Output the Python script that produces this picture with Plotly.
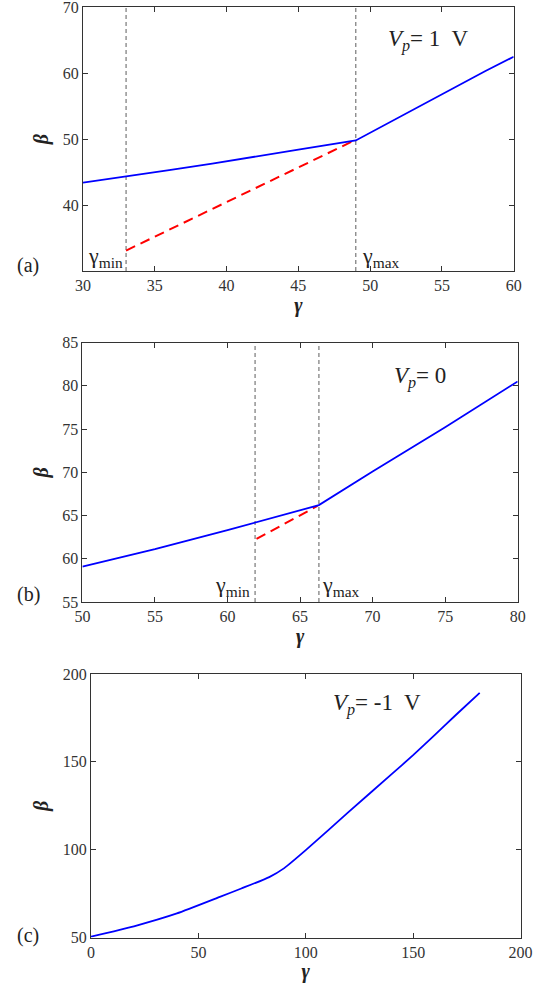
import plotly.graph_objects as go

# Panel (a): V_p = 1 V
a_gamma = [30, 33, 36, 39, 42, 45, 49, 52, 55, 58, 60]
a_beta = [43.4, 44.3, 45.3, 46.3, 47.4, 48.4, 49.8, 53.3, 56.8, 60.3, 62.5]
a_red_gamma = [33, 48.8]
a_red_beta = [33.1, 49.7]
a_vlines = [33, 49]

# Panel (b): V_p = 0
b_gamma = [50, 55, 60, 62, 64, 66.3, 70, 75, 80]
b_beta = [59.1, 61.1, 63.3, 64.2, 65.1, 66.2, 70.1, 75.2, 80.5]
b_red_gamma = [62, 66.2]
b_red_beta = [62.3, 66.1]
b_vlines = [61.9, 66.3]

# Panel (c): V_p = -1 V
c_gamma = [0, 20, 40, 60, 70, 83, 90, 100, 120, 140, 150, 160, 170, 181]
c_beta = [50.5, 56.4, 63.7, 73.1, 77.9, 84.4, 89.5, 99.7, 121.5, 143, 153.8, 165.2, 176.8, 189.3]

FONT = "'Liberation Serif', 'Times New Roman', Times, serif"
BLUE = "#0000ff"
RED = "#ff0000"
GRAY = "#777777"

fig = go.Figure()

def line(x, y, xa, ya, color, dash="solid", width=2, shape="linear"):
    fig.add_trace(go.Scatter(x=x, y=y, mode="lines", xaxis=xa, yaxis=ya,
                             line=dict(color=color, width=width, dash=dash, shape=shape,
                                       smoothing=0.5),
                             showlegend=False, hoverinfo="skip"))

# (a)
for v in a_vlines:
    line([v, v], [30, 70], "x", "y", GRAY, "4px,3px", 1.2)
line(a_red_gamma, a_red_beta, "x", "y", RED, "10px,6px", 2)
line(a_gamma, a_beta, "x", "y", BLUE, "solid", 1.8)
# (b)
for v in b_vlines:
    line([v, v], [55, 85], "x2", "y2", GRAY, "4px,3px", 1.2)
line(b_red_gamma, b_red_beta, "x2", "y2", RED, "10px,6px", 2)
line(b_gamma, b_beta, "x2", "y2", BLUE, "solid", 1.8)
# (c)
line(c_gamma, c_beta, "x3", "y3", BLUE, "solid", 1.8, "spline")

W, H = 537, 983

def px_x(p):
    return min(1.0, max(0.0, p / W))

def px_y(p):
    return min(1.0, max(0.0, 1 - p / H))

def xax(l, r, rng, dtick, anchor):
    return dict(domain=[px_x(l), px_x(r)], range=rng, dtick=dtick, anchor=anchor,
                automargin=False, ticklabeloverflow="allow",
                showline=True, linecolor="#333333", linewidth=1, mirror="ticks",
                ticks="inside", ticklen=5, tickcolor="#333333", showgrid=False,
                zeroline=False, tickfont=dict(family=FONT, size=16, color="#333333"),
                title=dict(text="<b><i>γ</i></b>", font=dict(family=FONT, size=20, color="#222"),
                           standoff=2))

def yax(t, b, rng, tickvals, anchor):
    return dict(domain=[px_y(b), px_y(t)], range=rng, tickvals=tickvals, anchor=anchor,
                automargin=False, ticklabeloverflow="allow",
                showline=True, linecolor="#333333", linewidth=1, mirror="ticks",
                ticks="inside", ticklen=5, tickcolor="#333333", showgrid=False,
                zeroline=False, tickfont=dict(family=FONT, size=16, color="#333333"),
                title=dict(text="<b><i>β</i></b>", font=dict(family=FONT, size=20, color="#222"),
                           standoff=8))

fig.update_layout(
    width=W, height=H, margin=dict(l=0, r=0, t=0, b=0, autoexpand=False),
    paper_bgcolor="white", plot_bgcolor="white",
    xaxis=xax(83, 513.7, [30, 60], 5, "y"),
    yaxis=yax(7.3, 271, [30, 70], [40, 50, 60, 70], "x"),
    xaxis2=xax(82.4, 517.7, [50, 80], 5, "y2"),
    yaxis2=yax(342.5, 602, [55, 85], [55, 60, 65, 70, 75, 80, 85], "x2"),
    xaxis3=xax(91, 520.5, [0, 200], 50, "y3"),
    yaxis3=yax(674, 937.5, [50, 200], [50, 100, 150, 200], "x3"),
)

ann = []
def txt(text, x, y, xref, yref, xanchor="center", size=23):
    ann.append(dict(text=text, x=x, y=y, xref=xref, yref=yref, xanchor=xanchor,
                    yanchor="middle", showarrow=False,
                    font=dict(family=FONT, size=size, color="#222222")))

txt("<i>V<sub>p</sub></i>= 1&nbsp; V", 54.0, 65.0, "x", "y")
txt("<i>V<sub>p</sub></i>= 0", 73.3, 80.9, "x2", "y2")
txt("<i>V<sub>p</sub></i>= -1&nbsp; V", 133.3, 182.5, "x3", "y3")
txt("γ<sub>min</sub>", 30.2, 32.2, "x", "y", "left", 22)
txt("γ<sub>max</sub>", 49.3, 32.2, "x", "y", "left", 22)
txt("γ<sub>min</sub>", 61.7, 56.9, "x2", "y2", "right", 22)
txt("γ<sub>max</sub>", 66.4, 56.9, "x2", "y2", "left", 22)
txt("(a)", px_x(28), px_y(265), "paper", "paper", "center", 20)
txt("(b)", px_x(28), px_y(594), "paper", "paper", "center", 20)
txt("(c)", px_x(28), px_y(935), "paper", "paper", "center", 20)
fig.update_layout(annotations=ann)

fig.write_html("out.html")
